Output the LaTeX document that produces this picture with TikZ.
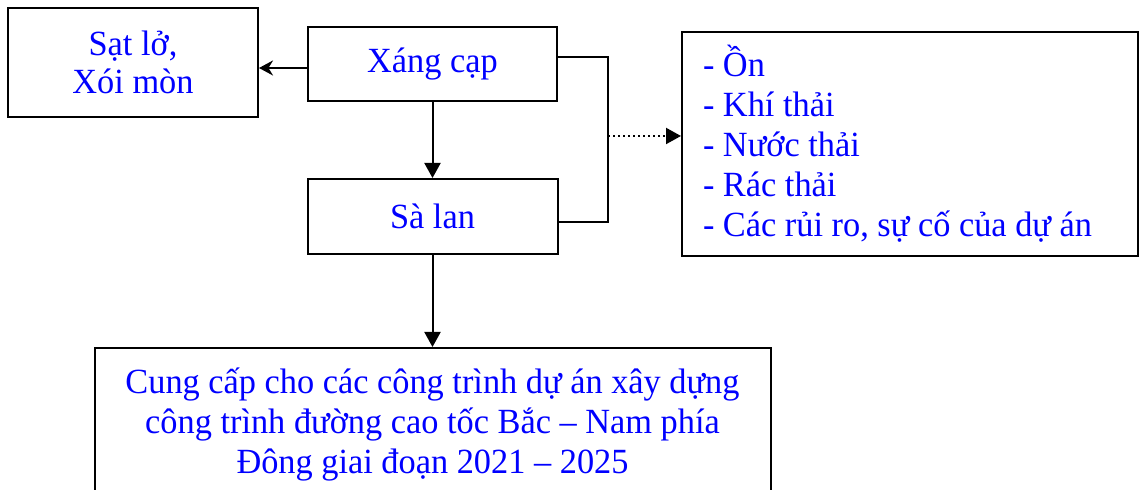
\documentclass[tikz,border=0pt]{standalone}
\usepackage{fontspec}
\setmainfont{Liberation Serif}[FakeStretch=0.97]
\usepackage{xcolor}
\usetikzlibrary{arrows.meta, positioning}
\definecolor{textblue}{RGB}{0,0,255}
\newcommand{\boxfont}{\fontsize{17.7}{20}\selectfont}

\begin{document}
\begin{tikzpicture}[x=0.5pt, y=-0.5pt,
    box/.style={draw=black, line width=1pt, text=textblue, align=flush center,
      font=\boxfont, inner sep=0pt},
    link/.style={line width=1pt, -{Triangle[width=8pt, length=7.5pt]}}]
        \useasboundingbox (0,0) rectangle (1139,490);
        \clip (0,0) rectangle (1139,490);
        % boxes
        \node[box, minimum width=125pt, minimum height=54.5pt] (satlo) at (133,62.5) {Sạt lở,\\[-1pt]Xói mòn};
        \node[box, minimum width=124.5pt, minimum height=37pt] (xang) at (432.5,64) {Xáng cạp};
        \node[box, minimum width=125pt, minimum height=37.5pt] (salan) at (432.5,216.5) {Sà lan};
        \node[box, minimum width=228pt, minimum height=112pt, text width=207pt, align=flush left] (tacdong) at (910,144)
          {- Ồn\\- Khí thải\\- Nước thải\\- Rác thải\\- Các rủi ro, sự cố của dự án};
        \node[box, anchor=north, minimum width=338pt, text width=338pt, inner ysep=10pt] (cungcap) at (432.5,347)
          {Cung cấp cho các công trình dự án xây dựng\\công trình đường cao tốc Bắc – Nam phía\\Đông giai đoạn 2021 – 2025};
        % connectors
        \coordinate (noi) at (608,136);
        \draw[line width=1pt, -{Stealth[width=7.5pt, length=7pt]}] ([yshift=-2pt]xang.west) -- ([yshift=-2pt]xang.west -| satlo.east);
        \draw[link] (xang.south) -- (salan.north);
        \draw[link] (salan.south) -- (cungcap.north);
        \draw[line width=1pt] ([yshift=3.5pt]xang.east) -| (noi) |- ([yshift=-2.75pt]salan.east);
        \draw[link, dash pattern=on 1pt off 1.5pt] (noi) -- (noi -| tacdong.west);
      \end{tikzpicture}
\end{document}
